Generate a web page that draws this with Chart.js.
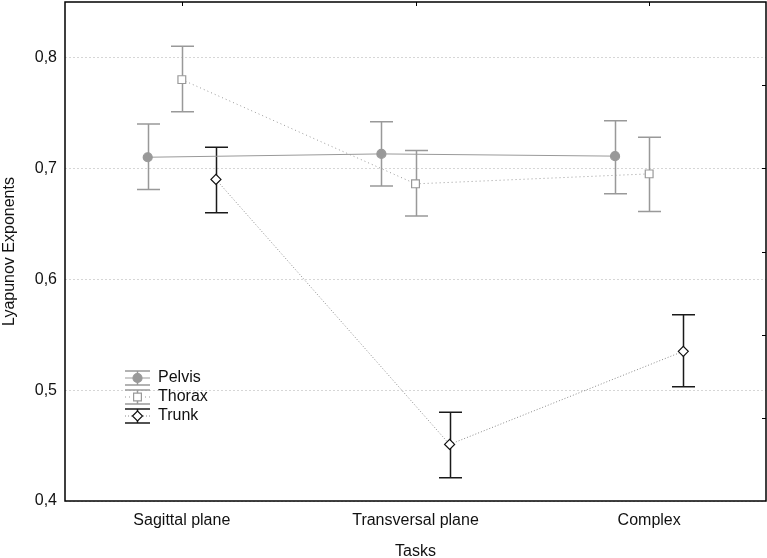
<!DOCTYPE html>
<html>
<head>
<meta charset="utf-8">
<script src="https://cdn.jsdelivr.net/npm/chart.js@4/dist/chart.umd.min.js"></script>
<style>
    html, body { margin: 0; padding: 0; background: #fff; }
    #wrap { width: 767px; height: 558px; position: relative; }
</style>
</head>
<body>
<div id="wrap"><canvas id="canvas-1"></canvas></div>
<script>
var tasks = ['Sagittal plane', 'Transversal plane', 'Complex'];
var yTicks = [0.4, 0.5, 0.6, 0.7, 0.8];

var pelvisMean = [0.710, 0.713, 0.711];
var pelvisLow = [0.681, 0.684, 0.677];
var pelvisHigh = [0.740, 0.742, 0.743];

var thoraxMean = [0.780, 0.686, 0.695];
var thoraxLow = [0.751, 0.657, 0.661];
var thoraxHigh = [0.810, 0.716, 0.728];

var trunkMean = [0.690, 0.451, 0.535];
var trunkLow = [0.660, 0.421, 0.503];
var trunkHigh = [0.719, 0.480, 0.568];

(function () {
    'use strict';

    var FONT = "'Liberation Sans', Arial, Helvetica, sans-serif";
    var shift = 0.146;

    function points(values, offset) {
        return values.map(function (v, i) {
            return {x: i + offset, y: v};
        });
    }

    var series = [
        {label: 'Pelvis', mean: pelvisMean, low: pelvisLow, high: pelvisHigh, offset: -shift,
            color: '#999999', barColor: '#999999', markColor: '#999999', dash: [], style: 'circle', fill: '#999999', radius: 4.5},
        {label: 'Thorax', mean: thoraxMean, low: thoraxLow, high: thoraxHigh, offset: 0,
            color: '#999999', barColor: '#999999', markColor: '#999999', dash: [1, 3], style: 'rect', fill: '#ffffff', radius: 5.5},
        {label: 'Trunk', mean: trunkMean, low: trunkLow, high: trunkHigh, offset: shift,
            color: '#8a8a8a', barColor: '#1a1a1a', markColor: '#111111', dash: [1, 2], style: 'rectRot', fill: '#ffffff', radius: 5}
    ];

    var datasets = series.map(function (s) {
        return {
            label: s.label,
            data: points(s.mean, s.offset),
            borderColor: s.color,
            borderWidth: 1,
            borderDash: s.dash,
            pointStyle: s.style,
            pointRadius: s.radius,
            pointBackgroundColor: s.fill,
            pointBorderColor: s.markColor,
            pointBorderWidth: 1.2,
            fill: false,
            tension: 0
        };
    });

    // error bars, frame ticks and the legend inside the plot
    var extras = {
        id: 'extras',
        beforeDatasetsDraw: function (chart) {
            var ctx = chart.ctx, xs = chart.scales.x, ys = chart.scales.y;
            ctx.save();
            series.forEach(function (s) {
                ctx.strokeStyle = s.barColor;
                ctx.lineWidth = 1.5;
                s.mean.forEach(function (v, i) {
                    var px = Math.round(xs.getPixelForValue(i + s.offset)) + 0.5;
                    var top = ys.getPixelForValue(s.high[i]);
                    var bot = ys.getPixelForValue(s.low[i]);
                    ctx.beginPath();
                    ctx.moveTo(px, top);
                    ctx.lineTo(px, bot);
                    ctx.moveTo(px - 11.5, top);
                    ctx.lineTo(px + 11.5, top);
                    ctx.moveTo(px - 11.5, bot);
                    ctx.lineTo(px + 11.5, bot);
                    ctx.stroke();
                });
            });
            ctx.restore();
        },
        afterDraw: function (chart) {
            var ctx = chart.ctx, a = chart.chartArea, xs = chart.scales.x;
            var i, py;
            ctx.save();
            ctx.strokeStyle = '#000';
            ctx.lineWidth = 1.5;
            ctx.strokeRect(a.left, a.top, a.right - a.left, a.bottom - a.top);
            ctx.lineWidth = 1;
            ctx.beginPath();
            tasks.forEach(function (t, k) {
                var px = Math.round(xs.getPixelForValue(k)) + 0.5;
                ctx.moveTo(px, a.top);
                ctx.lineTo(px, a.top + 4);
            });
            for (i = 1; i < 6; i++) {
                py = Math.round(a.top + (a.bottom - a.top) * i / 6) + 0.5;
                ctx.moveTo(a.right, py);
                ctx.lineTo(a.right - 4, py);
            }
            ctx.stroke();

            var lx = 125, ly = 378;
            series.forEach(function (s, k) {
                var y = ly + k * 19, cx = lx + 12.5;
                ctx.strokeStyle = s.barColor;
                ctx.lineWidth = 1.5;
                ctx.setLineDash([]);
                ctx.beginPath();
                ctx.moveTo(lx, y - 7);
                ctx.lineTo(lx + 25, y - 7);
                ctx.moveTo(lx, y + 7);
                ctx.lineTo(lx + 25, y + 7);
                ctx.moveTo(cx, y - 7);
                ctx.lineTo(cx, y + 7);
                ctx.stroke();
                ctx.strokeStyle = s.color;
                ctx.lineWidth = 1;
                ctx.setLineDash(s.dash);
                ctx.beginPath();
                ctx.moveTo(lx, y);
                ctx.lineTo(lx + 25, y);
                ctx.stroke();
                ctx.setLineDash([]);
                ctx.fillStyle = s.fill;
                ctx.strokeStyle = s.markColor;
                ctx.lineWidth = 1.2;
                Chart.helpers.drawPoint(ctx, {pointStyle: s.style, radius: s.radius, borderWidth: 1.2}, cx, y);
                ctx.fillStyle = '#111';
                ctx.font = '16px ' + FONT;
                ctx.textAlign = 'left';
                ctx.textBaseline = 'middle';
                ctx.fillText(s.label, lx + 33, y);
            });
            ctx.restore();
        }
    };

    var ctx = document.getElementById('canvas-1');
    //noinspection JSUnusedLocalSymbols
    var chart = new Chart(ctx, {
        type: 'line',
        data: {datasets: datasets},
        plugins: [extras],
        options: {
            responsive: true,
            maintainAspectRatio: false,
            animation: false,
            layout: {autoPadding: false, padding: {left: 0, right: 1, top: 2, bottom: 0}},
            plugins: {
                legend: {display: false},
                tooltip: {enabled: false}
            },
            scales: {
                x: {
                    type: 'linear',
                    min: -0.5,
                    max: 2.5,
                    afterBuildTicks: function (scale) {
                        scale.ticks = tasks.map(function (t, i) {
                            return {value: i};
                        });
                    },
                    afterFit: function (scale) {
                        scale.height = 57;
                        scale.paddingLeft = 0;
                        scale.paddingRight = 0;
                    },
                    grid: {display: false, drawTicks: false},
                    border: {display: false},
                    ticks: {
                        padding: 10,
                        color: '#111',
                        font: {family: FONT, size: 16},
                        maxRotation: 0,
                        autoSkip: false,
                        callback: function (v) {
                            return tasks[v];
                        }
                    },
                    title: {
                        display: true,
                        text: 'Tasks',
                        color: '#111',
                        font: {family: FONT, size: 16},
                        padding: {top: 0, bottom: -3}
                    }
                },
                y: {
                    min: 0.4,
                    max: 0.85,
                    afterBuildTicks: function (scale) {
                        scale.ticks = yTicks.map(function (v) {
                            return {value: v};
                        });
                    },
                    afterFit: function (scale) {
                        scale.width = 65;
                        scale.paddingTop = 0;
                        scale.paddingBottom = 0;
                    },
                    grid: {
                        color: '#d6d6d6',
                        lineWidth: 1,
                        drawTicks: false
                    },
                    border: {display: false, dash: [2, 2]},
                    ticks: {
                        padding: 8,
                        color: '#111',
                        font: {family: FONT, size: 16},
                        callback: function (v) {
                            return v.toFixed(1).replace('.', ',');
                        }
                    },
                    title: {
                        display: true,
                        text: 'Lyapunov Exponents',
                        color: '#111',
                        font: {family: FONT, size: 16},
                        padding: {top: 0, bottom: 0}
                    }
                }
            }
        }
    });
})();
</script>
</body>
</html>
